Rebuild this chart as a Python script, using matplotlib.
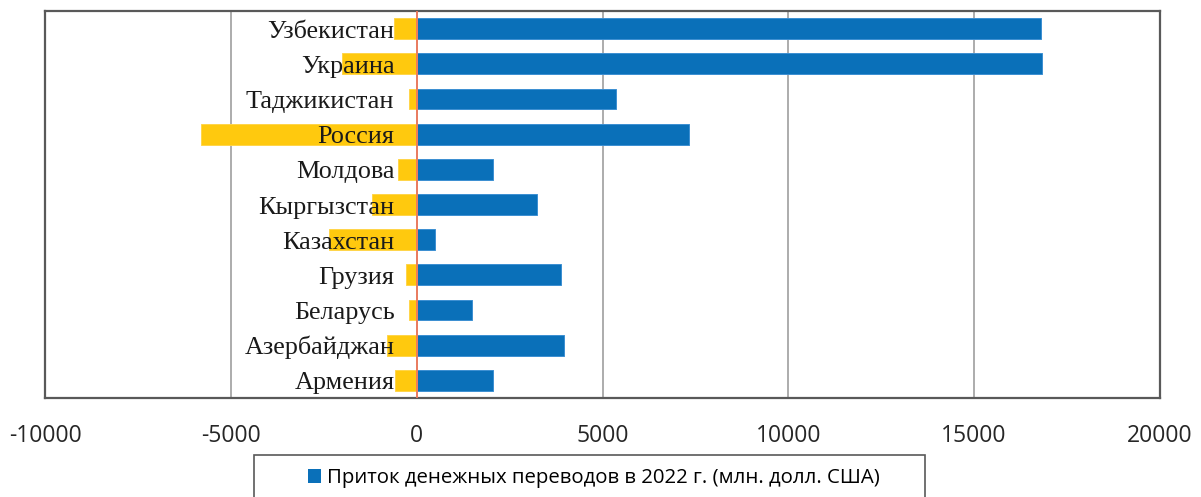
import matplotlib
matplotlib.use("Agg")
import matplotlib.pyplot as plt
from matplotlib.patches import Patch, Rectangle
import numpy as np

# Countries listed bottom -> top, as in the original Excel chart
countries = ["Армения", "Азербайджан", "Беларусь", "Грузия", "Казахстан",
             "Кыргызстан", "Молдова", "Россия", "Таджикистан", "Украина",
             "Узбекистан"]
# Remittance inflows, 2022 (mln USD)
inflow = [2045, 3966, 1478, 3870, 482, 3245, 2045, 7327, 5366, 16824, 16788]
# Remittance outflows, 2022 (mln USD, shown as negative)
outflow = [-579, -794, -215, -276, -2356, -1214, -493, -5805, -204, -2019, -600]

legend_label = "Приток денежных переводов в 2022 г. (млн. долл. США)"
xticks = [-10000, -5000, 0, 5000, 10000, 15000, 20000]

blue = "#0A70B9"
yellow = "#FFC90E"
W, H = 1201, 497

fig = plt.figure(figsize=(W / 100, H / 100), dpi=100)
ax = fig.add_axes([45 / W, 1 - 398 / H, (1160 - 45) / W, (398 - 11) / H])

y = np.arange(len(countries))
ax.barh(y, inflow, height=0.59, color=blue, edgecolor="#3C8FD2",
        linewidth=0.7, zorder=2)
ax.barh(y, outflow, height=0.59, color=yellow, edgecolor="#FFD54A",
        linewidth=0.7, zorder=2)
ax.axvline(0, color="#F0785A", linewidth=1.3, zorder=3)

ax.set_xlim(xticks[0], xticks[-1])
ax.set_ylim(-0.5, len(countries) - 0.5)
ax.set_xticks(xticks)
ax.set_xticklabels([str(t) for t in xticks], fontsize=16.5,
                   family="Open Sans", color="#262626")
ax.set_yticks([])
ax.tick_params(axis="x", length=0, pad=19)
ax.grid(axis="x", color="#A6A6A6", linewidth=1.3, zorder=0)
ax.set_axisbelow(True)
for s in ax.spines.values():
    s.set_color("#595959")
    s.set_linewidth(1.6)

for yi, name in zip(y, countries):
    ax.annotate(name, (0, yi), xytext=(-16, -6.5), textcoords="offset points",
                ha="right", va="baseline", fontsize=18.8,
                family="Liberation Serif", color="#1A1A1A", zorder=4)

# legend (box runs off the bottom edge, like the source)
fig.patches.append(Rectangle((254 / W, -0.1), (925 - 254) / W,
                             (1 - 455 / H) + 0.1, transform=fig.transFigure,
                             fill=False, edgecolor="#595959", linewidth=1.2))
fig.legend([Patch(facecolor=blue)], [legend_label], loc="center left",
           bbox_to_anchor=(308 / W, 1 - 478 / H), frameon=False,
           borderpad=0, borderaxespad=0, handlelength=0.65, handleheight=0.65,
           handletextpad=0.3, prop={"family": "Open Sans", "size": 14.7})

fig.savefig("out.png", dpi=100)
